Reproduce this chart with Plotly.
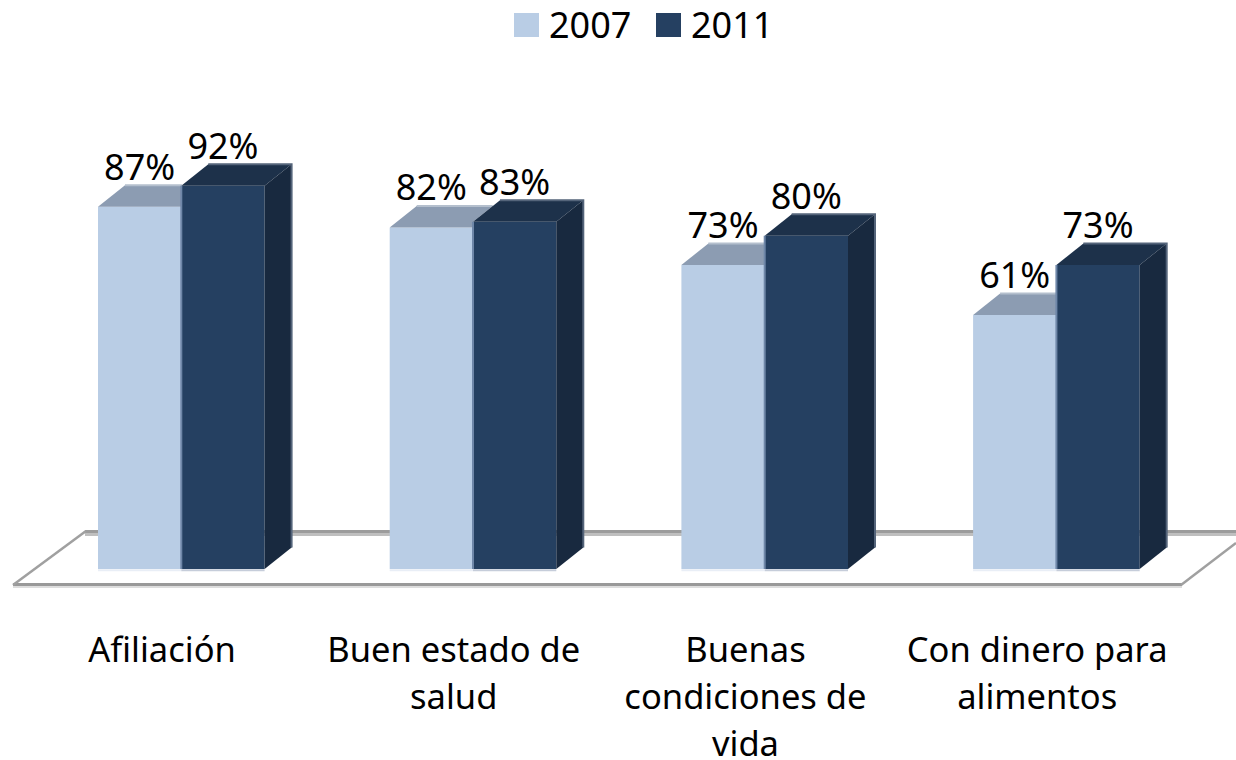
import plotly.graph_objects as go

categories = ["Afiliación", "Buen estado de<br>salud", "Buenas<br>condiciones de<br>vida", "Con dinero para<br>alimentos"]
years = ["2007", "2011"]
values_2007 = [87, 82, 73, 61]
values_2011 = [92, 83.4, 80, 73]

FONT = "Noto Sans"
FS = 36
TICK_FS = 34.5
W, H = 1236, 760
PLOT_BOTTOM = 624
GROUP_PX, X0_PX = 291.7, 181.3
UNIT_PX, Y0_PX = 4.165, 569
BAR_W = 83.3 / GROUP_PX
DX = 27 / GROUP_PX
DY = 21.5 / UNIT_PX
xr = [-X0_PX / GROUP_PX, (W - X0_PX) / GROUP_PX]
yr = [(Y0_PX - PLOT_BOTTOM) / UNIT_PX, Y0_PX / UNIT_PX]
idx = list(range(len(categories)))


def px_x(p):
    return (p - X0_PX) / GROUP_PX


def px_y(p):
    return (Y0_PX - p) / UNIT_PX


fig = go.Figure()
fig.add_bar(x=[i - BAR_W / 2 for i in idx], y=values_2007, width=BAR_W, name=years[0],
            marker=dict(color="#B9CDE5", line_width=0))
fig.add_bar(x=[i + BAR_W / 2 for i in idx], y=values_2011, width=BAR_W, name=years[1],
            marker=dict(color="#254061", line_width=0))


def poly(xs, ys, fill):
    fig.add_scatter(x=xs, y=ys, mode="lines", fill="toself", fillcolor=fill,
                    line=dict(width=0, color=fill), hoverinfo="skip")


def stroke(xs, ys, color, width=2):
    fig.add_scatter(x=xs, y=ys, mode="lines", line=dict(width=width, color=color), hoverinfo="skip")


for i, v, d in zip(idx, values_2007, values_2011):
    a, b = i - BAR_W, i
    back = v + DY
    # the light top disappears behind the taller dark column next to it
    end = b + DX * (back - d) / DY if back > d else b
    poly([a, a + DX, end, b, b, a], [v, back, back, min(back, d), v, v], "#8C9CB2")
    stroke([a + DX, end], [back, back], "#B4BFCD", 2)
    stroke([a, b], [-0.3, -0.3], "#E9EEF6", 2)
for i, v in zip(idx, values_2011):
    a, b = i, i + BAR_W
    poly([a, a + DX, b + DX, b, a], [v, v + DY, v + DY, v, v], "#1D314A")
    poly([b, b + DX, b + DX, b, b], [0, DY, v + DY, v, 0], "#18293F")
    stroke([a + DX, b + DX, b + DX], [v + DY, v + DY, DY], "#54647A", 2)
    stroke([a, a], [0, v], "#6F87A8", 2)
    stroke([a, b], [-0.3, -0.3], "#C6CDDA", 2)

label_gap = 36 / UNIT_PX
fig.add_scatter(x=[i - BAR_W / 2 for i in idx], y=[v + label_gap for v in values_2007], mode="text",
                text=[f"{v:.0f}%" for v in values_2007], textposition="middle center",
                textfont=dict(family=FONT, size=FS, color="#000000"), hoverinfo="skip")
fig.add_scatter(x=[i + BAR_W / 2 for i in idx], y=[v + label_gap for v in values_2011], mode="text",
                text=[f"{v:.0f}%" for v in values_2011], textposition="middle center",
                textfont=dict(family=FONT, size=FS, color="#000000"), hoverinfo="skip")

# floor (behind the bars)
shapes = []
def floor_line(x0, y0, x1, y1, color, width):
    shapes.append(dict(type="line", xref="x", yref="y", layer="below", x0=px_x(x0), y0=px_y(y0),
                       x1=px_x(x1), y1=px_y(y1), line=dict(color=color, width=width)))

floor_line(85, 531.5, W, 531.5, "#9C9C9C", 3)
floor_line(85, 534.5, W, 534.5, "#BFBFBF", 3)
floor_line(13, 584.5, 1182, 584.5, "#999999", 3)
floor_line(13, 587, 1182, 587, "#DDDDDD", 2)
floor_line(13, 585, 86, 531, "#A0A0A0", 2.5)
floor_line(1181, 585, 1236, 543, "#A0A0A0", 2.5)

# legend row
for x0, color in zip([514, 656], ["#B9CDE5", "#254061"]):
    shapes.append(dict(type="rect", xref="paper", yref="paper", layer="above", line_width=0, fillcolor=color,
                       x0=x0 / W, x1=(x0 + 25) / W, y0=1 - 37 / PLOT_BOTTOM, y1=1 - 13 / PLOT_BOTTOM))
annotations = [dict(xref="paper", yref="paper", x=x0 / W, y=1 - 25 / PLOT_BOTTOM, text=t, showarrow=False,
                    xanchor="left", yanchor="middle", borderpad=0, borderwidth=0,
                    font=dict(family=FONT, size=FS, color="#000000"))
               for x0, t in zip([549, 691], years)]

fig.update_layout(
    width=W, height=H, autosize=False, margin=dict(l=0, r=0, t=0, b=H - PLOT_BOTTOM, pad=0),
    paper_bgcolor="#FFFFFF", plot_bgcolor="#FFFFFF", showlegend=False, barmode="overlay",
    shapes=shapes, annotations=annotations,
    xaxis=dict(range=xr, showgrid=False, zeroline=False, showline=False, ticks="", automargin=False,
               tickmode="array", tickvals=[i - 0.066 for i in idx],
               ticktext=[f'<span style="font-size:{TICK_FS}px">{c}</span>'.replace("<br>", f'</span><br><span style="font-size:{TICK_FS}px">') for c in categories],
               tickangle=0, tickfont=dict(family=FONT, size=36.5, color="#000000")),
    yaxis=dict(range=yr, visible=False, showgrid=False, zeroline=False, automargin=False),
)
fig.write_html("out.html", config=dict(displayModeBar=False),
               post_script="document.body.style.margin='0';document.documentElement.style.overflow='hidden';")
